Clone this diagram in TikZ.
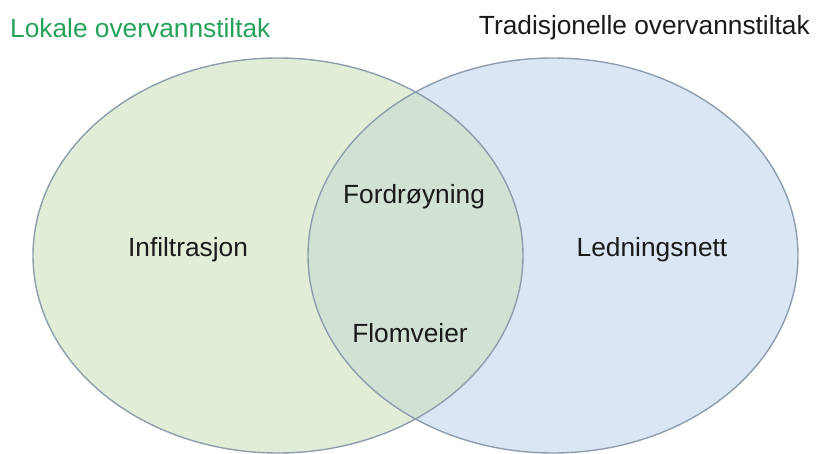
\documentclass[tikz,border=0pt]{standalone}
\usepackage{fontspec}
\setmainfont{Liberation Sans}
\definecolor{lokalgreen}{HTML}{E2EDD7}
\definecolor{tradblue}{HTML}{DAE6F4}
\definecolor{overlapmix}{HTML}{D1E1D4}
\definecolor{rimgray}{HTML}{8C9DAE}
\definecolor{titlegreen}{HTML}{25A25A}
\definecolor{inkdark}{HTML}{1A1A1A}
\usetikzlibrary{positioning}

\begin{document}
\begin{tikzpicture}[
  x=1pt, y=-1pt,
  font=\fontsize{26.3}{31}\selectfont,
  rim/.style={draw=rimgray, line width=1.4pt},
  lab/.style={text=inkdark, inner sep=0pt},
  head/.style={inner sep=0pt},
]
  \useasboundingbox (0,0) rectangle (822,454);
  % the two sets
  \fill[lokalgreen] (278,255.5) ellipse [x radius=245, y radius=197.5];
  \fill[tradblue]   (553,255.5) ellipse [x radius=245, y radius=197.5];
  \begin{scope}
    \clip (278,255.5) ellipse [x radius=245, y radius=197.5];
    \fill[overlapmix] (553,255.5) ellipse [x radius=245, y radius=197.5];
  \end{scope}
  \draw[rim] (278,255.5) ellipse [x radius=245, y radius=197.5];
  \draw[rim] (553,255.5) ellipse [x radius=245, y radius=197.5];
  % titles
  \node[head, text=titlegreen, anchor=west] (lokale) at (10,28) {Lokale overvannstiltak};
  \node[head, text=inkdark, anchor=east]    (trad)   at (810,28) {Tradisjonelle overvannstiltak};
  % members
  \node[lab] (infil)  at (188,250) {Infiltrasjon};
  \node[lab] (ledn)   at (652,250) {Ledningsnett};
  \node[lab] (fordr)  at (414,197) {Fordrøyning};
  \node[lab] (flomv)  at (410,333) {Flomveier};
\end{tikzpicture}
\end{document}
